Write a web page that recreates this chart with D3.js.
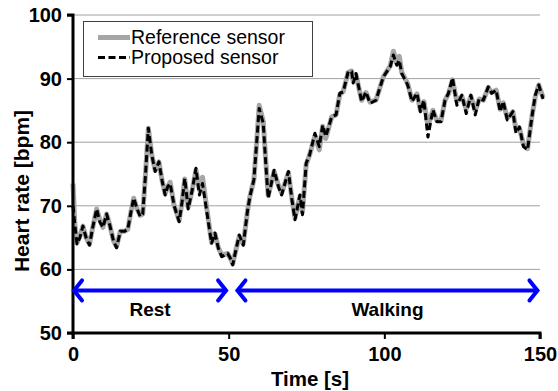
<!DOCTYPE html>
<html>
<head>
<meta charset="utf-8">
<script src="https://cdn.jsdelivr.net/npm/d3@7"></script>
<style>
  html, body { margin: 0; padding: 0; background: #fff; }
  svg { display: block; font-family: "Liberation Sans", Arial, sans-serif; }
</style>
</head>
<body>
<script>
// Sample times in seconds
const times = [
  0, 0.6, 1.3, 2.2, 3.2, 4.2, 5.3, 6.3, 7.6, 8.6, 9.6, 10.8, 11.8, 13.0, 14.0,
  15.2, 16.6, 17.6, 18.6, 19.5, 20.6, 21.6, 22.4, 23.3, 24.2, 25.3, 26.4, 27.6,
  28.6, 29.6, 30.4, 31.2, 32.5, 34.1, 35.0, 35.9, 37.0, 38.3, 39.5, 40.6, 41.6,
  43.0, 44.5, 45.6, 46.7, 47.8, 49.7, 50.5, 51.3, 52.3, 53.4, 54.7, 56.0, 56.8,
  58.1, 59.0, 59.8, 61.1, 62.0, 62.7, 64.6, 66.0, 67.0, 69.2, 70.3, 71.3, 72.9,
  73.7, 74.9, 76.0, 77.7, 79.1, 80.2, 81.2, 83.1, 84.5, 85.7, 86.8, 88.4, 89.5,
  90.0, 90.9, 92.7, 94.1, 95.4, 97.3, 99.7, 101.9, 102.9, 104.0, 104.8, 105.6,
  107.5, 108.9, 110.5, 111.6, 112.7, 114.0, 115.6, 116.9, 118.2, 119.5, 120.6,
  121.9, 123.3, 124.9, 126.3, 127.8, 129.2, 130.5, 131.8, 133.4, 134.5, 135.9,
  137.2, 138.2, 139.5, 141.3, 142.3, 143.4, 144.7, 146.0, 147.4, 148.5, 149.6, 151.0
];

// Heart rate from the reference sensor [bpm]
const referenceHR = [
  73.5, 67, 64.2, 65.2, 66.8, 65, 64, 66.5, 69.5, 67.8, 66.6, 68.7, 67, 64.5, 63.6,
  66, 66, 66.3, 69, 71.2, 69.5, 68.5, 68.7, 75, 82.2, 78, 75.6, 76.9, 74, 71.9,
  73, 73.7, 70, 67.7, 70.5, 74.2, 69.8, 72.5, 75.6, 72.5, 74.5,
  69.5, 64.3, 65.6, 63.4, 62.2, 62.5, 61.8, 60.9, 63, 65.2, 64, 69, 71.4,
  74.1, 80, 85.8, 83.3, 76.5, 71.6, 75.4, 73.2, 72, 75.2, 71.2, 68.1, 71.5,
  69, 76.5, 78, 81, 78.8, 82.5, 80.6, 84, 84.3, 87.5, 88, 91, 91.2,
  89.6, 90.6, 86.6, 87.8, 86.3, 86.6, 90.3, 92, 94.3, 92.4, 93.5, 91,
  89.2, 86.6, 87.6, 85, 86.4, 82.6, 85, 83.4, 83.4, 86.6, 87.6,
  89.8, 86.4, 87.2, 85.2, 87.2, 85, 86.8, 86.6, 88.6, 87.8, 88.2,
  85.2, 86.2, 83.8, 84.8, 82, 82.2, 79.6, 79, 84, 87.2, 89, 87
];

// Heart rate from the proposed sensor [bpm]
const proposedHR = [
  70, 67, 64.0, 65.0, 66.8, 65, 63.8, 66.5, 69.5, 67.5, 66.6, 68.7, 67, 64.5, 63.4,
  66, 66, 66.3, 69, 71.2, 69.5, 68.3, 68.7, 75, 82.2, 78, 75.4, 76.9, 74, 71.7,
  73, 73.5, 70, 67.5, 70.5, 74.3, 69.5, 72.5, 75.9, 71.7, 73.5,
  69, 64.1, 65.7, 63.3, 62.0, 62.5, 61.8, 60.7, 63, 65.4, 63.8, 69, 71.4,
  74.1, 80, 85.3, 83.0, 76, 71.2, 75.6, 73, 71.7, 75.4, 71, 67.8, 71.7,
  68.6, 76.7, 78.0, 81.4, 79.3, 82.7, 80.9, 84.0, 84.3, 87.7, 87.9, 91.1, 91.1,
  89.3, 90.8, 86.4, 87.9, 86.1, 86.6, 90.3, 91.9, 93.7, 92.1, 92.9, 90.8,
  89.0, 86.4, 87.7, 84.8, 86.6, 80.8, 85.1, 83.2, 83.2, 86.6, 87.7,
  90.1, 85.8, 87.4, 84.5, 87.4, 84.3, 86.9, 86.6, 88.7, 87.7, 88.2,
  84.8, 86.4, 83.5, 84.8, 81.4, 82.4, 79.3, 78.8, 84.0, 87.4, 89.0, 86.8
];

const seriesNames = ["Reference sensor", "Proposed sensor"];
const xTicks = [0, 50, 100, 150];
const yTicks = [50, 60, 70, 80, 90, 100];
const phases = [
  { label: "Rest", start: 0, end: 49.5 },
  { label: "Walking", start: 52.5, end: 149.5 }
];
const phaseLevel = 56.7;

const W = 558, H = 391;
const svg = d3.select("body").append("svg").attr("width", W).attr("height", H);

const x = d3.scaleLinear().domain([0, 150]).range([73, 540]);
const y = d3.scaleLinear().domain([50, 100]).range([333, 15]);

// Horizontal gridlines
svg.append("g").selectAll("line")
  .data(yTicks.filter(d => d > 50))
  .join("line")
  .attr("x1", x(0)).attr("x2", x(150))
  .attr("y1", d => y(d)).attr("y2", d => y(d))
  .attr("stroke", "#a0a0a0").attr("stroke-width", 1);

// Heart rate traces
const line = d3.line().x((d, i) => x(times[i])).y(d => y(d));

svg.append("path")
  .attr("d", line(referenceHR))
  .attr("fill", "none").attr("stroke", "#a6a6a6")
  .attr("stroke-width", 5).attr("stroke-linejoin", "round");

svg.append("path")
  .attr("d", line(proposedHR))
  .attr("fill", "none").attr("stroke", "#000")
  .attr("stroke-width", 3).attr("stroke-dasharray", "7,3.5")
  .attr("stroke-linejoin", "round");

// Axes
const yAxis = svg.append("g").attr("transform", `translate(${x(0)},0)`)
  .call(d3.axisLeft(y).tickValues(yTicks).tickSize(6).tickPadding(5));
const xAxis = svg.append("g").attr("transform", `translate(0,${y(50)})`)
  .call(d3.axisBottom(x).tickValues(xTicks).tickSize(6).tickPadding(8));

[yAxis, xAxis].forEach(g => {
  g.select(".domain").attr("stroke", "#000").attr("stroke-width", 3);
  g.selectAll(".tick line").attr("stroke", "#000").attr("stroke-width", 2);
  g.selectAll(".tick text")
    .attr("fill", "#000")
    .style("font-size", "20px").style("font-weight", "bold")
    .style("font-family", "'Liberation Sans', Arial, sans-serif");
});
yAxis.select(".domain").attr("d", `M-6,${y(100)}H0V${y(50)}H-6`);
xAxis.select(".domain").attr("d", `M${x(0)},6V0H${x(150)}V6`);

// Axis titles
svg.append("text")
  .attr("x", 310).attr("y", 386)
  .attr("text-anchor", "middle")
  .style("font-size", "20.5px").style("font-weight", "bold")
  .text("Time [s]");

svg.append("text")
  .attr("transform", "translate(28.5,191) rotate(-90)")
  .attr("text-anchor", "middle")
  .style("font-size", "21px").style("font-weight", "bold")
  .text("Heart rate [bpm]");

// Activity phase arrows
const blue = "#0000ff";
const py = y(phaseLevel);
const ph = svg.append("g");
phases.forEach(p => {
  const x1 = x(p.start), x2 = x(p.end);
  ph.append("line")
    .attr("x1", x1 + 1).attr("x2", x2 - 1).attr("y1", py).attr("y2", py)
    .attr("stroke", blue).attr("stroke-width", 4);
  ph.append("path")
    .attr("d", `M${x1 + 9},${py - 10}L${x1 + 1},${py}L${x1 + 9},${py + 10}`)
    .attr("fill", "none").attr("stroke", blue).attr("stroke-width", 4)
    .attr("stroke-linecap", "round").attr("stroke-linejoin", "miter");
  ph.append("path")
    .attr("d", `M${x2 - 9},${py - 10}L${x2 - 1},${py}L${x2 - 9},${py + 10}`)
    .attr("fill", "none").attr("stroke", blue).attr("stroke-width", 4)
    .attr("stroke-linecap", "round").attr("stroke-linejoin", "miter");
  ph.append("text")
    .attr("x", (x1 + x2) / 2).attr("y", py + 26)
    .attr("text-anchor", "middle")
    .style("font-size", "19px").style("font-weight", "bold")
    .text(p.label);
});

// Legend
const lg = svg.append("g");
lg.append("rect")
  .attr("x", 83.5).attr("y", 21.5).attr("width", 229).attr("height", 55)
  .attr("fill", "#fff").attr("stroke", "#404040").attr("stroke-width", 1);
const legendStyles = [
  { stroke: "#a6a6a6", width: 5, dash: null },
  { stroke: "#000", width: 3, dash: "7,3.5" }
];
seriesNames.forEach((name, i) => {
  const base = 44 + i * 20;
  lg.append("line")
    .attr("x1", 98).attr("x2", 130).attr("y1", base - 6.5).attr("y2", base - 6.5)
    .attr("stroke", legendStyles[i].stroke)
    .attr("stroke-width", legendStyles[i].width)
    .attr("stroke-dasharray", legendStyles[i].dash);
  lg.append("text")
    .attr("x", 131).attr("y", base)
    .style("font-size", "19.5px")
    .text(name);
});
</script>
</body>
</html>
